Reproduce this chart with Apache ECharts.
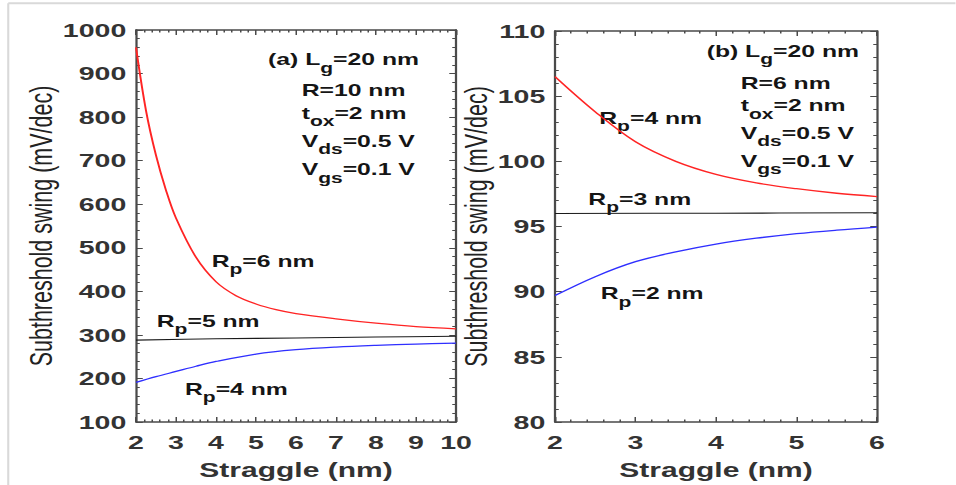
<!DOCTYPE html>
<html>
<head>
<meta charset="utf-8">
<script src="https://cdn.jsdelivr.net/npm/echarts@6/dist/echarts.min.js"></script>
<style>
  html, body { margin: 0; padding: 0; background: #fff; overflow: hidden; }
  #wrap { width: 956px; height: 485px; overflow: hidden; }
  #chart { width: 637.33px; height: 485px; transform: scaleX(1.5); transform-origin: 0 0; }
</style>
</head>
<body>
<div id="wrap"><div id="chart"></div></div>
<script>
// ---------- data ----------
const xTicksLeft = [2, 3, 4, 5, 6, 7, 8, 9, 10];
const yTicksLeft = [100, 200, 300, 400, 500, 600, 700, 800, 900, 1000];
const xTicksRight = [2, 3, 4, 5, 6];
const yTicksRight = [80, 85, 90, 95, 100, 105, 110];

// panel (a)
const xA_Rp6 = [2, 2.25, 2.5, 2.75, 3, 3.5, 4, 4.5, 5, 5.5, 6, 7, 8, 9, 10];
const yA_Rp6 = [960, 815, 712, 632, 568, 478, 422, 390, 371, 358, 349, 337, 327, 319, 314];
const xA_Rp5 = [2, 4, 6, 8, 10];
const yA_Rp5 = [288, 291, 293, 295, 297];
const xA_Rp4 = [2, 2.5, 3, 3.5, 4, 5, 6, 7, 8, 9, 10];
const yA_Rp4 = [191, 204, 216, 228, 239, 256, 266, 272, 276, 279, 281];

// panel (b)
const xB_Rp4 = [2, 2.5, 3, 3.5, 4, 4.5, 5, 5.5, 6];
const yB_Rp4 = [106.5, 103.8, 101.5, 100.0, 99.0, 98.35, 97.9, 97.55, 97.3];
const xB_Rp3 = [2, 4, 6];
const yB_Rp3 = [96.0, 96.02, 96.05];
const xB_Rp2 = [2, 2.5, 3, 3.5, 4, 4.5, 5, 5.5, 6];
const yB_Rp2 = [89.7, 91.15, 92.3, 93.05, 93.65, 94.1, 94.45, 94.72, 94.95];

const xTitle = 'Straggle (nm)';
const yTitle = 'Subthreshold swing (mV/dec)';
const annA = [['(a) L', 'g', '=20 nm'], ['R=10 nm', '', ''], ['t', 'ox', '=2 nm'], ['V', 'ds', '=0.5 V'], ['V', 'gs', '=0.1 V']];
const annB = [['(b) L', 'g', '=20 nm'], ['R=6 nm', '', ''], ['t', 'ox', '=2 nm'], ['V', 'ds', '=0.5 V'], ['V', 'gs', '=0.1 V']];
const curveLabelsA = [['R', 'p', '=6 nm'], ['R', 'p', '=5 nm'], ['R', 'p', '=4 nm']];
const curveLabelsB = [['R', 'p', '=4 nm'], ['R', 'p', '=3 nm'], ['R', 'p', '=2 nm']];

// ---------- helpers ----------
const FONT = '"Liberation Sans", Arial, sans-serif';
const zip = (xs, ys) => xs.map((x, i) => [x, ys[i]]);
const FRAME = '#4a4a4a';

function xAx(gridIndex, ticks, pos, showLabel) {
  return {
    type: 'value', gridIndex, position: pos,
    min: ticks[0], max: ticks[ticks.length - 1], interval: ticks[1] - ticks[0],
    axisLine: { show: true, onZero: false, lineStyle: { color: FRAME, width: 1.5 } },
    axisTick: { show: true, inside: true, length: 5, lineStyle: { color: FRAME, width: 1 } },
    minorTick: { show: true, splitNumber: 5, length: 2.5, lineStyle: { color: FRAME, width: 1 } },
    splitLine: { show: false },
    axisLabel: { show: showLabel, fontFamily: FONT, fontWeight: 'bold', fontSize: 19, color: '#333', margin: 11,
                 formatter: v => String(v) },
    name: showLabel ? xTitle : '', nameLocation: 'middle', nameGap: 38,
    nameTextStyle: { fontFamily: FONT, fontWeight: 'bold', fontSize: 20, color: '#333' }
  };
}
function yAx(gridIndex, ticks, pos, showLabel, nameGap) {
  return {
    type: 'value', gridIndex, position: pos,
    min: ticks[0], max: ticks[ticks.length - 1], interval: ticks[1] - ticks[0],
    axisLine: { show: true, onZero: false, lineStyle: { color: FRAME, width: 1.5 } },
    axisTick: { show: true, inside: true, length: 4.5, lineStyle: { color: FRAME, width: 1 } },
    minorTick: { show: true, splitNumber: 5, length: 2.5, lineStyle: { color: FRAME, width: 1 } },
    splitLine: { show: false },
    axisLabel: { show: showLabel, fontFamily: FONT, fontWeight: 'bold', fontSize: 19, color: '#333', margin: 6.5,
                 formatter: v => String(v) },
    name: showLabel ? yTitle : '', nameLocation: 'middle', nameGap: nameGap, nameRotate: 90,
    nameTextStyle: { fontFamily: FONT, fontSize: 21.5, color: '#222' }
  };
}
function line(xi, yi, data, color, width) {
  return {
    type: 'line', xAxisIndex: xi, yAxisIndex: yi, data, smooth: 0.35,
    showSymbol: false, symbol: 'none', silent: true,
    lineStyle: { color, width }
  };
}
const rich = {
  b: { fontFamily: FONT, fontWeight: 'bold', fontSize: 16.5, fill: '#151515', verticalAlign: 'top' },
  s: { fontFamily: FONT, fontWeight: 'bold', fontSize: 14, fill: '#151515', verticalAlign: 'top', padding: [10, 0, 0, 0] }
};
function richText(parts) {
  let t = '{b|' + parts[0] + '}';
  if (parts[1]) t += '{s|' + parts[1] + '}';
  if (parts[2]) t += '{b|' + parts[2] + '}';
  return t;
}
function txt(parts, left, top) {
  return { type: 'text', left, top, silent: true, style: { text: richText(parts), rich, fill: '#151515' } };
}

const graphics = [
  { type: 'line', silent: true, shape: { x1: 5.5, y1: 3.3, x2: 5.5, y2: 485 }, style: { stroke: '#d9d9d9', lineWidth: 1.4 } },
  { type: 'line', silent: true, shape: { x1: 5.5, y1: 3.3, x2: 640, y2: 3.3 }, style: { stroke: '#d9d9d9', lineWidth: 2 } }
];
const annATops = [51, 81.7, 104.3, 132.7, 161];
const annBTops = [42.7, 74.3, 97, 124.3, 152.7];
annA.forEach((p, i) => graphics.push(txt(p, i === 0 ? 178.7 : 201.1, annATops[i])));
annB.forEach((p, i) => graphics.push(txt(p, i === 0 ? 471.1 : 493.8, annBTops[i])));
const clA = [[141.1, 252.7], [104.5, 312.7], [123.3, 380.3]];
const clB = [[399.5, 109.3], [392.2, 190.3], [400.5, 285]];
curveLabelsA.forEach((p, i) => graphics.push(txt(p, clA[i][0], clA[i][1])));
curveLabelsB.forEach((p, i) => graphics.push(txt(p, clB[i][0], clB[i][1])));

const chart = echarts.init(document.getElementById('chart'), null, { renderer: 'svg' });
chart.setOption({
  animation: false,
  backgroundColor: '#fff',
  grid: [
    { left: 90.67, top: 30, width: 213.33, height: 393 },
    { left: 370, top: 31, width: 214.67, height: 393 }
  ],
  xAxis: [
    xAx(0, xTicksLeft, 'bottom', true),
    xAx(0, xTicksLeft, 'top', false),
    xAx(1, xTicksRight, 'bottom', true),
    xAx(1, xTicksRight, 'top', false)
  ],
  yAxis: [
    yAx(0, yTicksLeft, 'left', true, 47.5),
    yAx(0, yTicksLeft, 'right', false, 0),
    yAx(1, yTicksRight, 'left', true, 37),
    yAx(1, yTicksRight, 'right', false, 0)
  ],
  series: [
    line(0, 0, zip(xA_Rp6, yA_Rp6), '#ff2424', 1.3),
    line(0, 0, zip(xA_Rp5, yA_Rp5), '#1a1a1a', 1.1),
    line(0, 0, zip(xA_Rp4, yA_Rp4), '#2f2fff', 1.3),
    line(2, 2, zip(xB_Rp4, yB_Rp4), '#ff2424', 1.3),
    line(2, 2, zip(xB_Rp3, yB_Rp3), '#1a1a1a', 1.1),
    line(2, 2, zip(xB_Rp2, yB_Rp2), '#2f2fff', 1.3)
  ],
  graphic: graphics
});
</script>
</body>
</html>
